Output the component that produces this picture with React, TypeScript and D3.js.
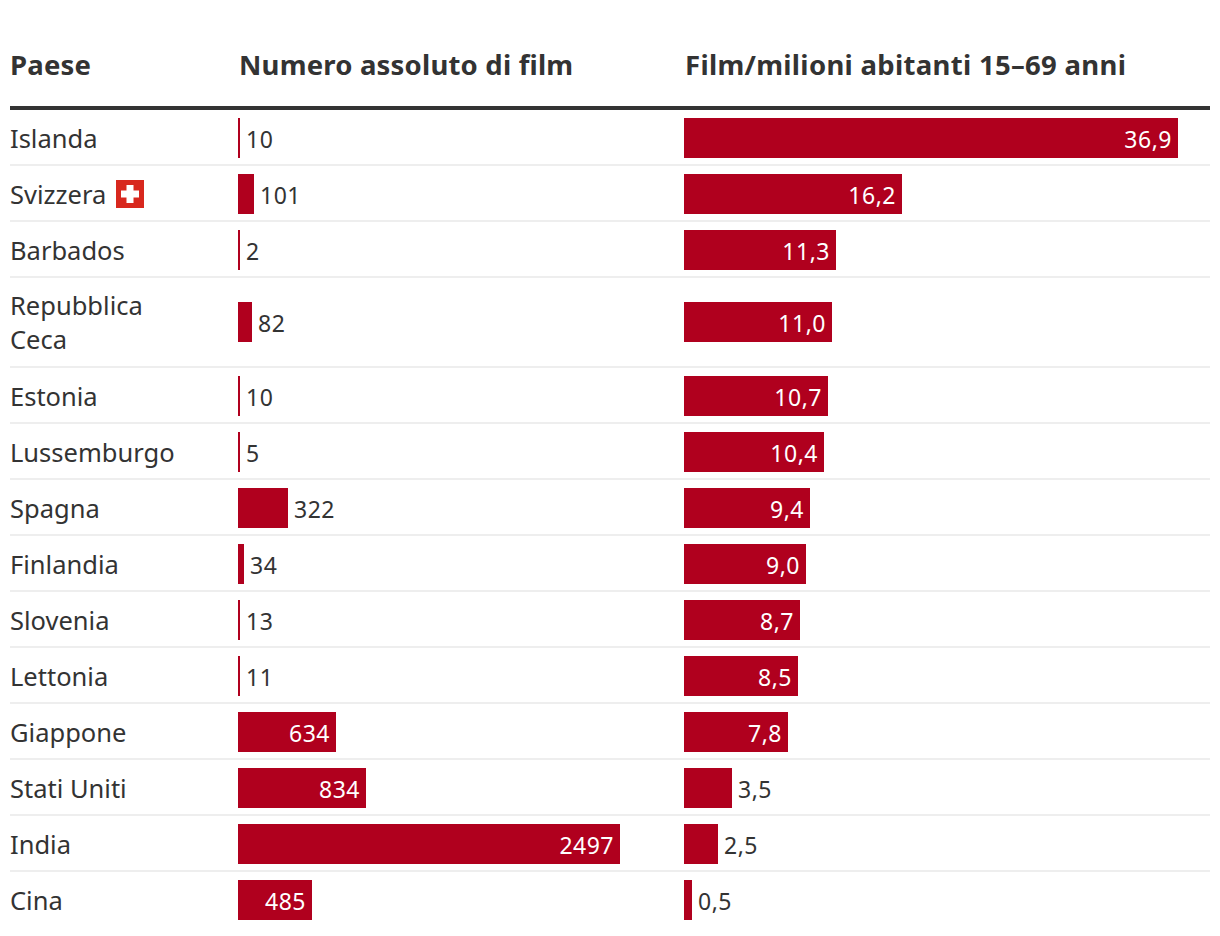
import React from 'react'
import * as d3 from 'd3'

const countries = ['Islanda', 'Svizzera', 'Barbados', 'Repubblica|Ceca', 'Estonia', 'Lussemburgo', 'Spagna', 'Finlandia', 'Slovenia', 'Lettonia', 'Giappone', 'Stati Uniti', 'India', 'Cina']
const films = [10, 101, 2, 82, 10, 5, 322, 34, 13, 11, 634, 834, 2497, 485]
const perMillion = [36.9, 16.2, 11.3, 11.0, 10.7, 10.4, 9.4, 9.0, 8.7, 8.5, 7.8, 3.5, 2.5, 0.5]
const headers = ['Paese', 'Numero assoluto di film', 'Film/milioni abitanti 15–69 anni']

const FONT = '"Noto Sans", sans-serif'
const RED = '#b0001e'
const TEXT = '#333333'

// bars in the original snap to a 2px grid, thinnest one is 2px
const snap = (w: number) => Math.max(2, Math.round(w / 2 + 0.26) * 2)

function App() {
  const x1 = d3.scaleLinear().domain([0, 2497]).range([0, 382])
  const x2 = d3.scaleLinear().domain([0, 36.9]).range([0, 494])
  const fmt = (v: number) => v.toFixed(1).replace('.', ',')

  let y = 110
  const rows = countries.map((c, i) => {
    const h = c.includes('|') ? 90 : 56
    const top = y
    y += h
    return { c, i, top, h }
  })

  const barLabel = (x0: number, w: number, txt: string, cy: number) =>
    w > 60
      ? <text x={x0 + w - 6} y={cy + 10} textAnchor="end" fill="#fff" fontSize={23} letterSpacing={0.5}>{txt}</text>
      : <text x={x0 + w + 6} y={cy + 10} fill={TEXT} fontSize={23} letterSpacing={0.5}>{txt}</text>

  return (
    <svg width={1220} height={936} style={{ position: 'absolute', left: 0, top: 0 }} fontFamily={FONT}>
      <text x={10} y={75} fontSize={27.5} letterSpacing={0.2} fontWeight={700} fill={TEXT}>{headers[0]}</text>
      <text x={239} y={75} fontSize={27.5} letterSpacing={0.2} fontWeight={700} fill={TEXT}>{headers[1]}</text>
      <text x={685} y={75} fontSize={27.5} letterSpacing={0.3} fontWeight={700} fill={TEXT}>{headers[2]}</text>
      <rect x={10} y={106} width={1200} height={4} fill={TEXT} />
      {rows.map(({ c, i, top, h }) => {
        const lines = c.split('|')
        const cy = top + (lines.length > 1 ? 44 : 28)
        const w1 = snap(x1(films[i]))
        const w2 = snap(x2(perMillion[i]))
        return (
          <g key={c}>
            {i < rows.length - 1 && <rect x={10} y={top + h - 2} width={1200} height={2} fill="#eeeeee" />}
            {lines.length === 1
              ? <text x={10} y={cy + 10} fontSize={25.5} fill={TEXT}>{c}</text>
              : lines.map((l, k) => <text key={l} x={10} y={cy - 7 + k * 34} fontSize={25.5} fill={TEXT}>{l}</text>)}
            {c === 'Svizzera' && (
              <g transform={`translate(116,${cy - 14})`}>
                <rect width={28} height={28} fill="#d8281e" />
                <rect x={10.5} y={5} width={7} height={18} fill="#fff" />
                <rect x={5} y={10.5} width={18} height={7} fill="#fff" />
              </g>
            )}
            <rect x={238} y={cy - 20} width={w1} height={40} fill={RED} />
            {barLabel(238, w1, String(films[i]), cy)}
            <rect x={684} y={cy - 20} width={w2} height={40} fill={RED} />
            {barLabel(684, w2, fmt(perMillion[i]), cy)}
          </g>
        )
      })}
    </svg>
  )
}

export default App
